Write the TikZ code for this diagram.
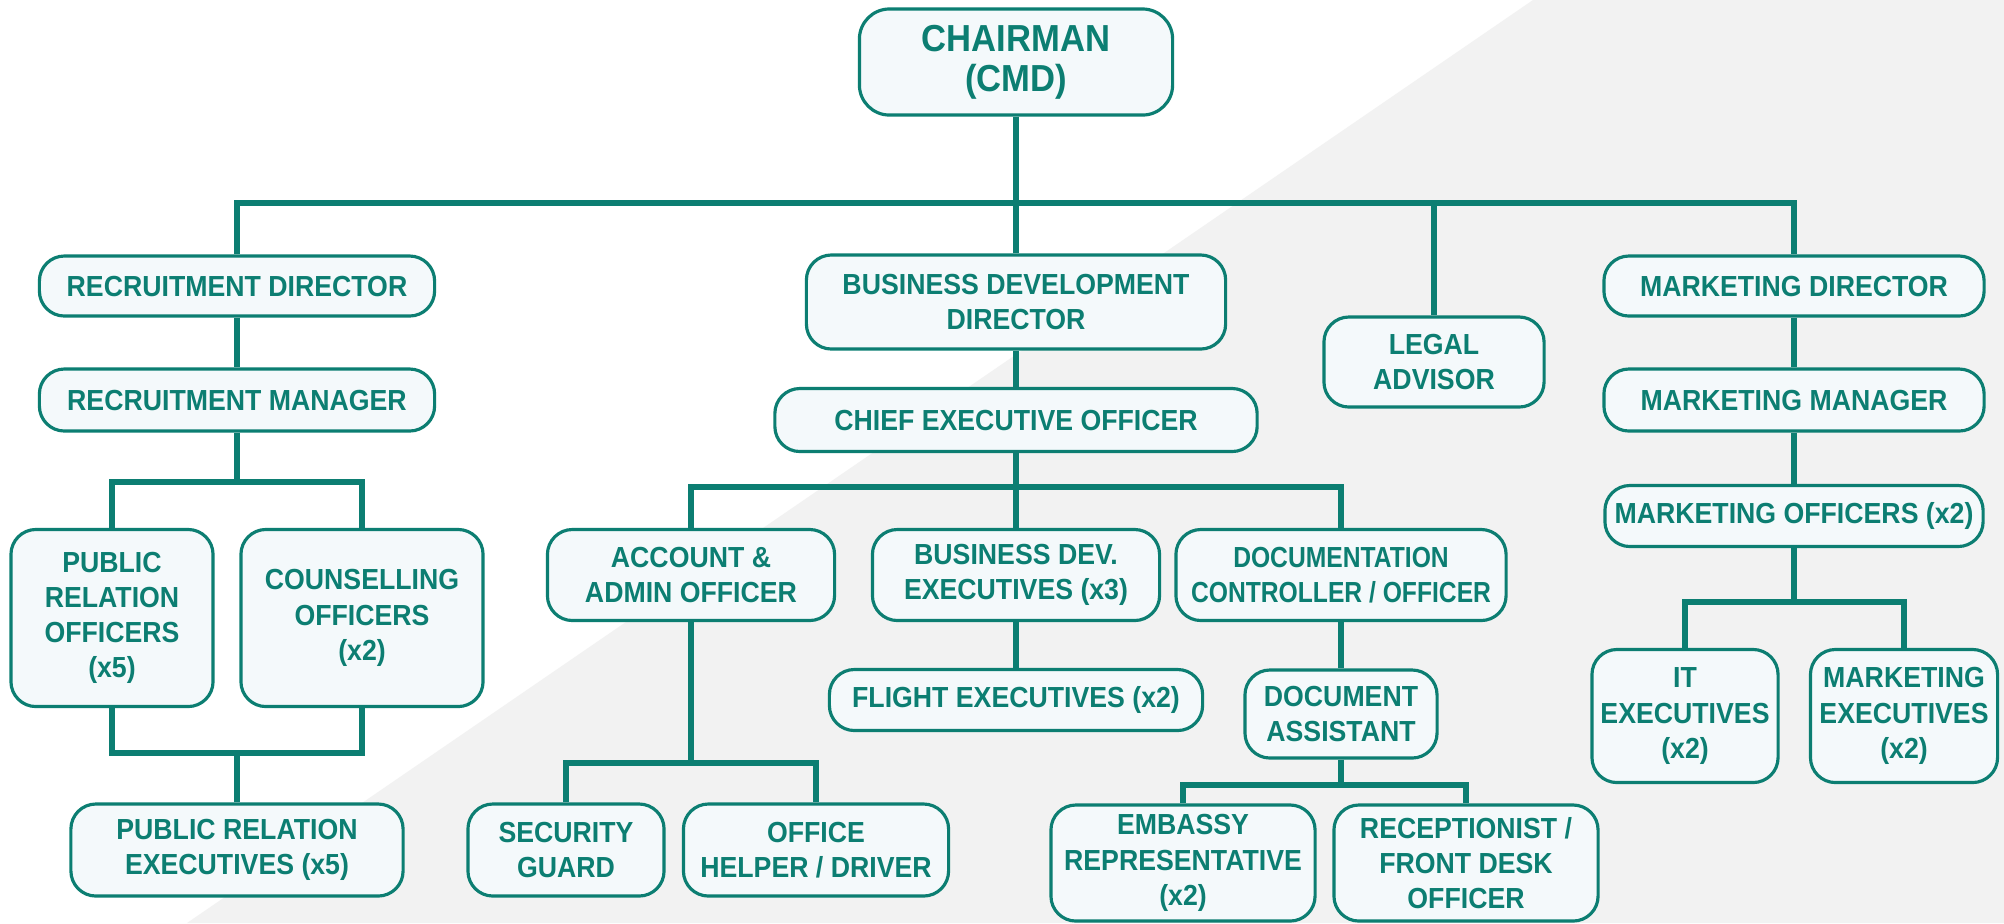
\documentclass[tikz,border=0pt]{standalone}
\usepackage{fontspec}
\setmainfont{Liberation Sans}[FakeStretch=0.92]
\definecolor{orgteal}{HTML}{0C7E72}
\definecolor{boxfill}{HTML}{F4F9FB}
\definecolor{bggray}{HTML}{F2F2F2}

\begin{document}
\begin{tikzpicture}[x=0.01cm, y=-0.01cm,
  post/.style={draw=orgteal, line width=0.9pt, fill=boxfill, rounded corners=0.25cm,
    text=orgteal, align=center, inner sep=0pt, font=\fontsize{8.25}{10}\selectfont\bfseries},
  link/.style={draw=orgteal, line width=1.6pt}]

\useasboundingbox (0,0) rectangle (2004,923);
\fill[white] (0,0) rectangle (2004,923);
\fill[bggray] (1533,0) -- (2004,0) -- (2004,923) -- (187,923) -- cycle;

\node[post, minimum width=3.13cm, minimum height=1.06cm, rounded corners=0.3cm,
  font=\fontsize{10.7}{11.4}\selectfont\bfseries] (chair) at (1016,62) {CHAIRMAN\\(CMD)};

\node[post, minimum width=3.95cm, minimum height=0.6cm] (recdir) at (237,286) {RECRUITMENT DIRECTOR};
\node[post, minimum width=3.95cm, minimum height=0.62cm] (recman) at (237,400) {RECRUITMENT MANAGER};
\node[post, minimum width=2.02cm, minimum height=1.77cm] (pro) at (112,618) {PUBLIC\\RELATION\\OFFICERS\\(x5)};
\node[post, minimum width=2.42cm, minimum height=1.77cm] (cou) at (362,618) {COUNSELLING\\OFFICERS\\(x2)};
\node[post, minimum width=3.32cm, minimum height=0.92cm] (pre) at (237,850) {PUBLIC RELATION\\EXECUTIVES (x5)};

\node[post, minimum width=4.19cm, minimum height=0.94cm] (bdd) at (1016,302) {BUSINESS DEVELOPMENT\\DIRECTOR};
\node[post, minimum width=4.82cm, minimum height=0.63cm] (ceo) at (1016,420) {CHIEF EXECUTIVE OFFICER};
\node[post, minimum width=2.87cm, minimum height=0.91cm] (aao) at (691,575) {ACCOUNT \&\\ADMIN OFFICER};
\node[post, minimum width=2.87cm, minimum height=0.91cm] (bde) at (1016,575) {BUSINESS DEV.\\EXECUTIVES (x3)};
\node[post, minimum width=3.30cm, minimum height=0.91cm,
  font=\fontsize{8.25}{10}\selectfont\bfseries\addfontfeatures{FakeStretch=0.85}] (dco) at (1341,575) {DOCUMENTATION\\CONTROLLER / OFFICER};
\node[post, minimum width=3.73cm, minimum height=0.61cm] (fle) at (1016,700) {FLIGHT EXECUTIVES (x2)};
\node[post, minimum width=1.92cm, minimum height=0.88cm] (das) at (1341,714) {DOCUMENT\\ASSISTANT};
\node[post, minimum width=1.96cm, minimum height=0.92cm] (sec) at (566,850) {SECURITY\\GUARD};
\node[post, minimum width=2.65cm, minimum height=0.92cm] (ohd) at (816,850) {OFFICE\\HELPER / DRIVER};
\node[post, minimum width=2.64cm, minimum height=1.16cm] (emb) at (1183,863) {EMBASSY\\REPRESENTATIVE\\(x2)};
\node[post, minimum width=2.64cm, minimum height=1.16cm] (rcp) at (1466,863) {RECEPTIONIST /\\FRONT DESK\\OFFICER};

\node[post, minimum width=2.2cm, minimum height=0.9cm] (leg) at (1434,362) {LEGAL\\ADVISOR};

\node[post, minimum width=3.8cm, minimum height=0.6cm] (mdir) at (1794,286) {MARKETING DIRECTOR};
\node[post, minimum width=3.8cm, minimum height=0.62cm] (mman) at (1794,400) {MARKETING MANAGER};
\node[post, minimum width=3.78cm, minimum height=0.61cm] (moff) at (1794,516) {MARKETING OFFICERS (x2)};
\node[post, minimum width=1.86cm, minimum height=1.33cm] (ite) at (1685,716) {IT\\EXECUTIVES\\(x2)};
\node[post, minimum width=1.87cm, minimum height=1.33cm] (mke) at (1904,716) {MARKETING\\EXECUTIVES\\(x2)};

\coordinate (topbus) at (0,203);
\coordinate (recbus) at (0,482);
\coordinate (prebus) at (0,753);
\coordinate (ceobus) at (0,487);
\coordinate (aaobus) at (0,763);
\coordinate (dasbus) at (0,785);
\coordinate (mktbus) at (0,602);

\draw[link] (recdir.north) |- (mdir.north |- topbus) -- (mdir.north);
\foreach \p in {chair.south, bdd.north, leg.north}
  \draw[link] (\p) -- (\p |- topbus);

\foreach \a/\b in {recdir/recman, bdd/ceo, bde/fle, dco/das, mdir/mman, mman/moff}
  \draw[link] (\a.south) -- (\b.north);

\foreach \up/\l/\r/\bus in {recman/pro/cou/recbus, ceo/aao/dco/ceobus, aao/sec/ohd/aaobus,
    das/emb/rcp/dasbus, moff/ite/mke/mktbus} {
  \draw[link] (\up.south) -- (\up.south |- \bus);
  \draw[link] (\l.north) |- (\r.north |- \bus) -- (\r.north);
}
\draw[link] (bde.north) -- (bde.north |- ceobus);

\draw[link] (pro.south) |- (cou.south |- prebus) -- (cou.south);
\draw[link] (pre.north) -- (pre.north |- prebus);
\end{tikzpicture}
\end{document}
